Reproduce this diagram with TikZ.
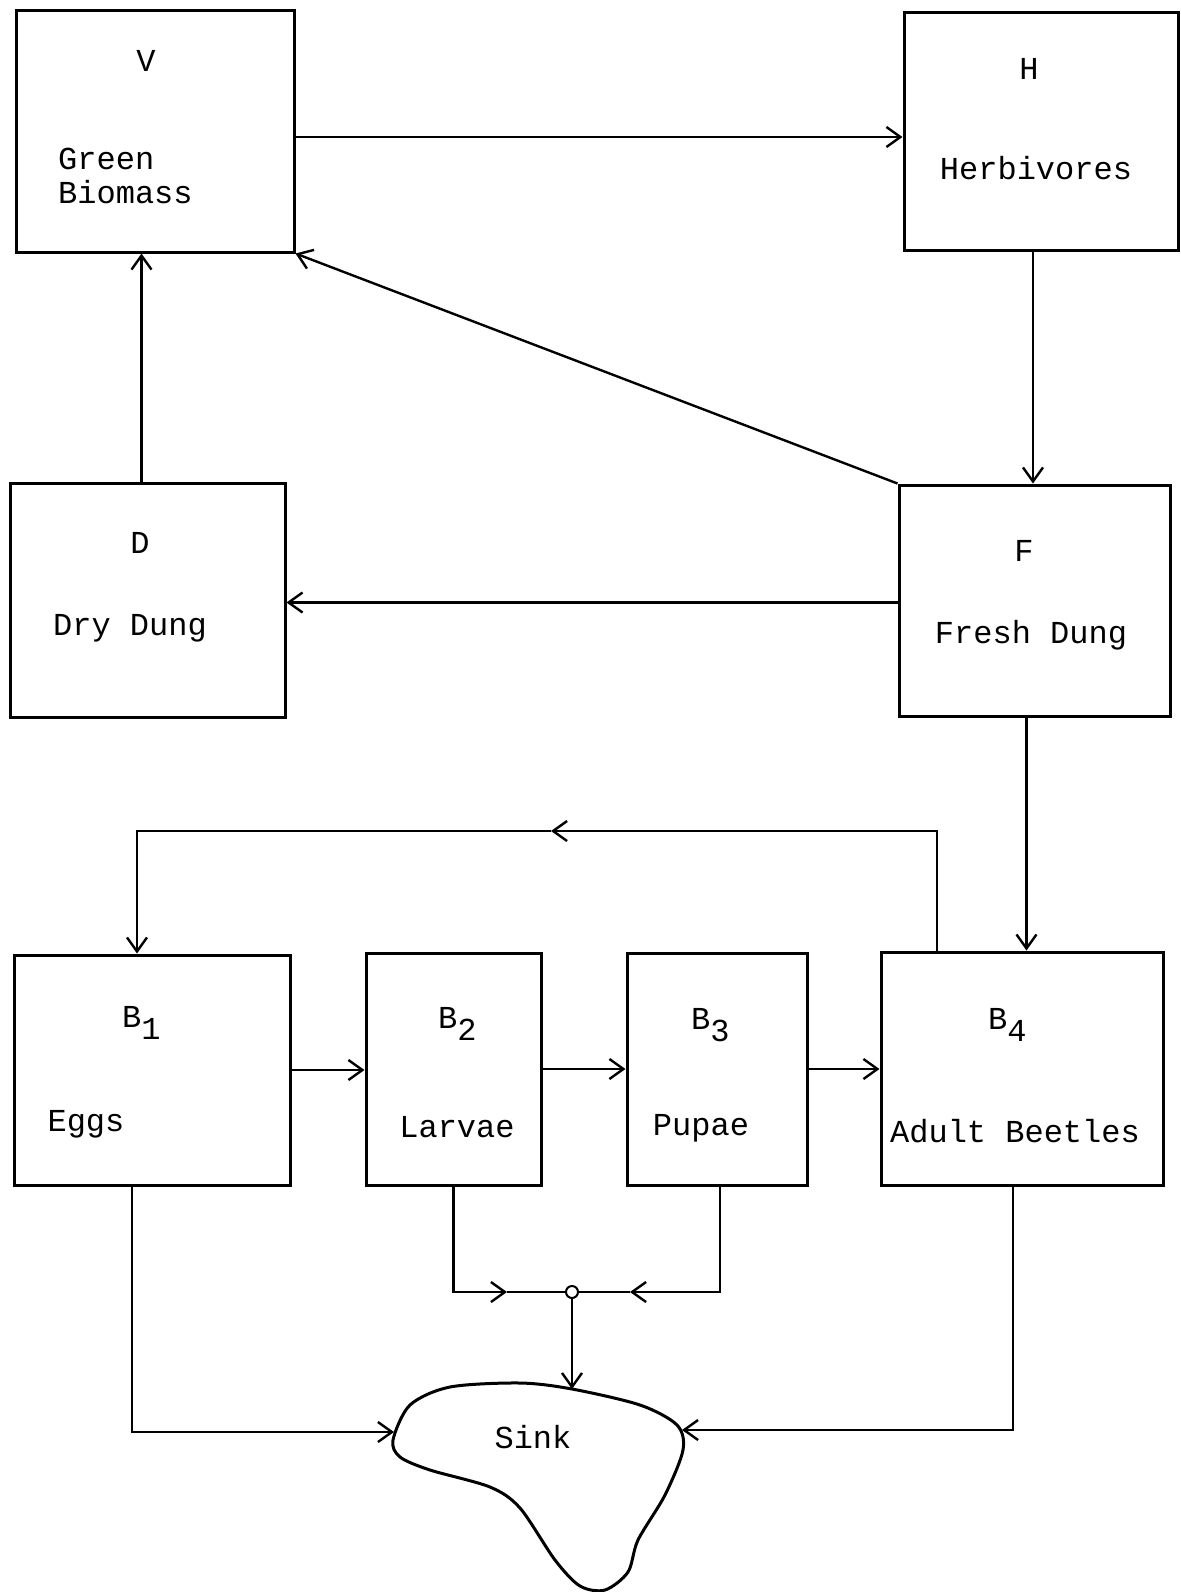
\documentclass[tikz,border=0pt]{standalone}
\usepackage{fontspec}
\setmonofont{Liberation Mono}
\usepackage{tikz}
\usetikzlibrary{arrows.meta}

\newcommand{\bsub}[1]{\raisebox{-6pt}{#1}}

\begin{document}
\begin{tikzpicture}[
    x=0.5pt, y=-0.5pt,
    ->, >={Straight Barb[length=7pt,width=10pt]},
    line width=1.2pt,
    every node/.style={font=\ttfamily\fontsize{16}{17}\selectfont},
    box/.style={draw, line width=1.5pt, inner sep=0pt},
    tag/.style={inner sep=0pt},
    joint/.style={circle, draw, inner sep=0pt, minimum size=6pt, line width=1pt}
]
    \useasboundingbox (0,0) rectangle (1181,1592);

    \node[box, minimum width=139pt, minimum height=121pt]   (V)  at (155,131)  {};
    \node[box, minimum width=137pt, minimum height=119pt]   (H)  at (1041,131) {};
    \node[box, minimum width=137.5pt, minimum height=117pt] (D)  at (147.5,600) {};
    \node[box, minimum width=135.5pt, minimum height=115.5pt] (F) at (1034.5,600.5) {};
    \node[box, minimum width=138pt, minimum height=115pt]   (B1) at (152,1070) {};
    \node[box, minimum width=87.5pt, minimum height=116pt]  (B2) at (453.5,1069) {};
    \node[box, minimum width=90pt, minimum height=116pt]    (B3) at (717,1069) {};
    \node[box, minimum width=141pt, minimum height=116.5pt] (B4) at (1022,1068.5) {};

    \node[tag] (Vlab) at (146,61) {V};
    \node[tag, align=left, anchor=west] (Vname) at (57,176) {Green\\Biomass};
    \node[tag] (Hlab) at (1029,69) {H};
    \node[tag] (Hname) at (1036,168) {Herbivores};
    \node[tag] (Dlab) at (140,543) {D};
    \node[tag] (Dname) at (130,628) {Dry Dung};
    \node[tag] (Flab) at (1024,551) {F};
    \node[tag] (Fname) at (1031,635) {Fresh Dung};

    \node[tag, anchor=base west] (B1lab) at (121,1027) {B\bsub{1}};
    \node[tag, anchor=base west] (B2lab) at (437,1028) {B\bsub{2}};
    \node[tag, anchor=base west] (B3lab) at (690,1029) {B\bsub{3}};
    \node[tag, anchor=base west] (B4lab) at (987,1029) {B\bsub{4}};
    \node[tag] (B1name) at (86,1124)   {Eggs};
    \node[tag] (B2name) at (457,1127)  {Larvae};
    \node[tag] (B3name) at (701,1128)  {Pupae};
    \node[tag] (B4name) at (1015,1131) {Adult Beetles};

    \draw[-, line width=1.5pt] plot[smooth cycle] coordinates {
        (393,1440) (410,1405) (450,1387) (520,1383) (572,1389) (640,1405)
        (677,1425) (683,1450) (665,1495) (638,1540) (628,1572) (605,1590)
        (580,1586) (555,1560) (520,1508) (490,1487) (430,1470) (400,1457)};
    \node[tag] (sink) at (533,1437) {Sink};
    \coordinate (sinkT) at (572,1389);
    \coordinate (sinkL) at (394,1432);
    \coordinate (sinkR) at (682,1430);

    \node[joint] (J) at (572,1292) {};
    \coordinate (jL) at (507,1292);
    \coordinate (jR) at (630,1292);

    \coordinate (loopR) at (937,831);
    \coordinate (loopM) at (551,831);
    \coordinate (loopL) at (137,831);

    \draw ([yshift=-3pt]V.east) -- ([yshift=-3pt]V.east -| H.west);
    \draw ([xshift=-4pt]H.south) -- ([xshift=-4pt]H.south |- F.north);
    \draw (F.north west) -- (V.south east);
    \draw ([yshift=-1pt]F.west) -- ([yshift=-1pt]F.west -| D.east);
    \draw ([xshift=-3pt]D.north) -- ([xshift=-3pt]D.north |- V.south);
    \draw ([xshift=-4pt]F.south) -- ([xshift=-4pt]F.south |- B4.north);

    \draw (B4.north -| loopR) -- (loopR) -- (loopM);
    \draw (loopM) -- (loopL) -- (B1.north -| loopL);

    \draw (B1.east) -- (B1.east -| B2.west);
    \draw (B2.east) -- (B2.east -| B3.west);
    \draw (B3.east) -- (B3.east -| B4.west);

    \draw (B2.south) |- (jL);
    \draw[-] (jL) -- (J);
    \draw ([xshift=1.5pt]B3.south) |- (jR);
    \draw[-] (jR) -- (J);
    \draw (J) -- (sinkT);

    \draw ([xshift=-10pt]B1.south) |- (sinkL);
    \draw ([xshift=-4.5pt]B4.south) |- (sinkR);
\end{tikzpicture}
\end{document}
